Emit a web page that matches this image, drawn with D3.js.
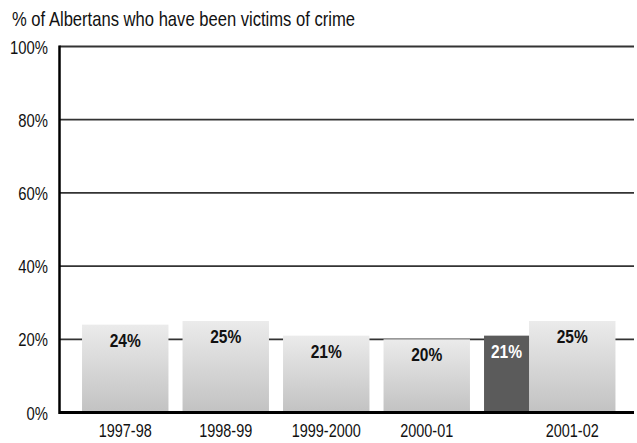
<!DOCTYPE html>
<html>
<head>
<meta charset="utf-8">
<script src="https://cdn.jsdelivr.net/npm/d3@7"></script>
<style>
  body { margin: 0; background: #fff; }
  svg { display: block; }
  text { font-family: "Liberation Sans", Arial, sans-serif; fill: #111; }
</style>
</head>
<body>
<svg id="chart" width="637" height="443"></svg>
<script>
// data
years = ["1997-98", "1998-99", "1999-2000", "2000-01", "2001-02"];
values = [24, 25, 21, 20, 25];
// the dark bar beside 2001-02
darkYear = "2001-02";
darkValue = 21;
yTicks = [0, 20, 40, 60, 80, 100];
title = "% of Albertans who have been victims of crime";

let svg = d3.select('#chart');
let plotLeft = 59.5, plotRight = 634, plotTop = 46.5, plotBottom = 412.5;

let x = d3.scaleBand().domain(years).range([75, 577.5]).paddingInner(0.14).paddingOuter(0.07);
let y = d3.scaleLinear().domain([0, 100]).range([plotBottom, plotTop]);
let darkW = 45;

// the original font is a narrow one, so squeeze the glyphs
function condense(sel, k){
  sel.each(function(){
    let w = this.getComputedTextLength();
    this.setAttribute('textLength', w * k);
    this.setAttribute('lengthAdjust', 'spacingAndGlyphs');
  });
}

let defs = svg.append('defs');
let grad = defs.append('linearGradient').attr('id', 'barGrad').attr('x1', 0).attr('x2', 0).attr('y1', 0).attr('y2', 1);
grad.append('stop').attr('offset', '0%').attr('stop-color', '#ebebeb');
grad.append('stop').attr('offset', '100%').attr('stop-color', '#c2c2c2');

svg.append('text').attr('x', 12).attr('y', 25.5).attr('font-size', 21).text(title).call(condense, 0.79);

// grid lines
svg.append('g').selectAll('line').data(yTicks.filter(function(d){ return d > 0; }))
  .enter().append('line')
  .attr('x1', plotLeft).attr('x2', plotRight)
  .attr('y1', function(d){ return y(d); }).attr('y2', function(d){ return y(d); })
  .attr('stroke', '#333').attr('stroke-width', 1.8);

// y tick labels
svg.append('g').selectAll('text').data(yTicks)
  .enter().append('text')
  .attr('x', 48).attr('y', function(d){ return y(d) + 7; })
  .attr('text-anchor', 'end').attr('font-size', 19)
  .text(function(d){ return d + '%'; })
  .call(condense, 0.78);

// bars
let offset = function(d){ return d == darkYear ? darkW : 0; };
svg.append('g').selectAll('rect').data(years)
  .enter().append('rect')
  .attr('x', function(d){ return x(d) + offset(d); })
  .attr('y', function(d, i){ return y(values[i]); })
  .attr('width', x.bandwidth())
  .attr('height', function(d, i){ return plotBottom - y(values[i]); })
  .attr('fill', 'url(#barGrad)');

svg.append('rect')
  .attr('x', x(darkYear)).attr('y', y(darkValue))
  .attr('width', darkW).attr('height', plotBottom - y(darkValue))
  .attr('fill', '#5b5b5b');

// value labels
svg.append('g').selectAll('text').data(years)
  .enter().append('text')
  .attr('x', function(d){ return x(d) + offset(d) + x.bandwidth() / 2; })
  .attr('y', function(d, i){ return y(values[i]) + 22; })
  .attr('text-anchor', 'middle').attr('font-size', 18.5).attr('font-weight', 'bold')
  .text(function(d, i){ return values[i] + '%'; })
  .call(condense, 0.84);

svg.append('text')
  .attr('x', x(darkYear) + darkW / 2).attr('y', y(darkValue) + 22)
  .attr('text-anchor', 'middle').attr('font-size', 18.5).attr('font-weight', 'bold')
  .style('fill', '#fff')
  .text(darkValue + '%')
  .call(condense, 0.84);

// x labels
svg.append('g').selectAll('text').data(years)
  .enter().append('text')
  .attr('x', function(d){ return x(d) + offset(d) + x.bandwidth() / 2; })
  .attr('y', 437)
  .attr('text-anchor', 'middle').attr('font-size', 19)
  .text(function(d){ return d; })
  .call(condense, 0.76);

// axes
svg.append('line').attr('x1', plotLeft).attr('x2', plotLeft).attr('y1', plotTop - 1).attr('y2', plotBottom + 1.5)
  .attr('stroke', '#000').attr('stroke-width', 2.5);
svg.append('line').attr('x1', plotLeft).attr('x2', plotRight).attr('y1', plotBottom).attr('y2', plotBottom)
  .attr('stroke', '#000').attr('stroke-width', 3);
</script>
</body>
</html>
